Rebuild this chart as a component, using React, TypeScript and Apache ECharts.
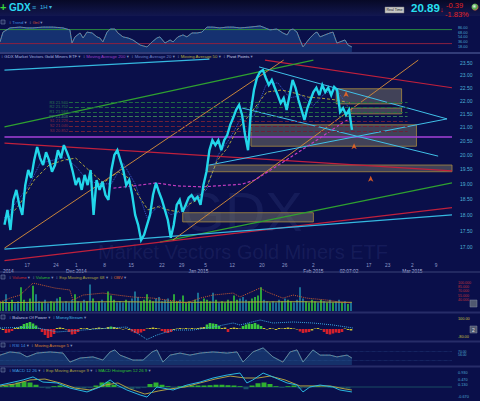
import React, { useEffect, useRef } from 'react';
import * as echarts from 'echarts';

const X_MAX = 150.67;
const ln = Math.log;
const FONT = 'Liberation Sans, Arial, DejaVu Sans, sans-serif';

// ---- main price panel (half-day samples) ----
const priceClose = [17.68,18.15,17.52,18.47,18.80,18.31,17.99,18.96,19.47,19.20,
  19.81,20.27,19.88,19.64,20.09,19.81,19.41,19.64,20.16,19.88,
  20.34,20.09,19.81,19.41,18.96,19.20,18.80,19.30,18.96,19.47,
  17.99,19.13,18.80,19.07,18.63,18.47,19.47,19.99,20.16,19.81,
  19.47,18.96,19.13,18.63,17.99,17.68,17.21,17.37,17.68,17.99,
  18.63,19.03,18.73,18.47,18.15,17.83,17.28,17.68,18.31,18.47,
  18.09,18.31,18.54,18.63,18.47,18.57,18.31,18.96,19.41,20.16,
  20.52,20.34,20.52,20.16,20.52,20.70,21.08,21.34,21.64,21.83,
  21.45,20.70,20.16,21.64,22.41,22.89,23.13,23.21,22.89,22.61,
  22.81,22.50,22.21,21.90,22.09,21.64,22.21,22.81,22.50,22.02,
  21.64,21.26,21.71,22.02,22.33,22.50,22.21,22.61,22.33,22.50,
  22.21,22.53,22.41,21.56,21.71,21.45,21.64,20.89];

const maYellow = [[0,17.77],[5,18.31],[10,19.13],[15,19.64],[20,19.81],[24,19.88],[28.3,19.47],[33.3,19.03],[38.3,19.41],[41.7,19.20],[45,18.63],[48.3,18.15],[51.7,18.25],[55,18.15],[58.3,18.09],[61.7,18.31],[65,18.47],[68.3,18.96],[71.7,19.81],[75,20.23],[78.3,20.89],[81.7,21.34],[85,21.83],[88.3,22.33],[93.3,22.41],[97.7,22.29],[102.3,22.13],[106.7,22.09],[111.7,22.02],[116.7,21.90]];
const maBlue = [[0,17.9],[4,18.4],[8,18.9],[12,19.7],[16,19.8],[20,19.9],[24,19.6],[28,19.1],[32,19.0],[36,19.0],[40,19.7],[44,19.0],[48,17.9],[52,18.3],[56,18.0],[60,18.1],[64,18.5],[68,18.8],[72,20.0],[76,20.6],[80,21.4],[84,21.4],[88,22.6],[92,22.7],[96,22.1],[100,22.2],[104,21.8],[108,22.3],[112,22.4],[116,21.7]];
const maMagenta = [[36.7,18.86],[43.3,18.93],[51,19.03],[58.3,18.93],[66.7,18.90],[80,18.99],[84.3,19.13],[93.3,19.71],[100,20.16],[106.7,20.63],[113.3,21.12],[116.7,21.34]];

const trendLines = [
  { pts: [[0, 20.63], [X_MAX, 20.63]], color: '#a640d8', width: 1.5 },
  { pts: [[0, 20.41], [X_MAX, 19.44]], color: '#c0203c', width: 1.2 },
  { pts: [[87.7, 23.62], [X_MAX, 22.50]], color: '#c0203c', width: 1.2 },
  { pts: [[0, 21.00], [104, 23.62]], color: '#2fa030', width: 1.2 },
  { pts: [[52.3, 17.15], [X_MAX, 19.03]], color: '#2fa030', width: 1.2 },
  { pts: [[0, 16.60], [X_MAX, 18.22]], color: '#c0203c', width: 1.2 },
  { pts: [[0, 16.94], [X_MAX, 17.99]], color: '#35b8e0', width: 1.2 },
  { pts: [[0, 23.21], [69, 23.66]], color: '#35b8e0', width: 1.2 },
  { pts: [[0, 16.97], [94, 23.62]], color: '#c8843a', width: 1 },
  { pts: [[56.7, 17.21], [139.3, 23.62]], color: '#c8843a', width: 1 },
  { pts: [[85.7, 23.34], [149, 21.30]], color: '#40c0e8', width: 1 },
  { pts: [[80, 21.71], [146, 19.95]], color: '#40c0e8', width: 1 },
  { pts: [[69, 19.64], [149, 21.30]], color: '#40c0e8', width: 1 },
];

const zoneBoxes = [
  [111.7, 22.46, 133.7, 21.87],
  [116.7, 21.71, 133.7, 21.49],
  [83, 21.08, 138.7, 20.30],
  [68.3, 19.64, X_MAX, 19.41],
  [60, 18.06, 104, 17.77],
];

const pivotNames = ['R3', 'R2', 'R1', 'PP', 'S1', 'S2', 'S3'];
const pivotValues = [21.940, 21.752, 21.564, 21.408, 21.226, 21.040, 20.852];
const pivotArrows = [[115, 22.37], [117.7, 20.41], [123.3, 19.27]];

const priceTicks = [17, 17.5, 18, 18.5, 19, 19.5, 20, 20.5, 21, 21.5, 22, 22.5, 23, 23.5];
const dayTicks = [7.67, 17.33, 24.2, 33.67, 42.67, 53, 59.67, 67.67, 76.67, 86.67, 94.33, 104, 122.67, 129, 137.33, 145.33];
const dayLabels = ['17', '24', '1', '8', '15', '22', '29', '5', '12', '20', '26', '2', '17', '23', '2', '9'];
const monthTicks = [1.3, 24.2, 65.3, 104, 116, 137.33];
const monthLabels = ['2014', 'Dec 2014', 'Jan 2015', 'Feb 2015', '02:07:02', 'Mar 2015'];

// ---- trend panel ----
const trendPts = [[0,36],[1,71],[3.3,86],[6.7,89],[9,86],[11,86],[14.3,89],[17.7,89],[21,86],[22.3,82],[23.3,79],[24,32],[25,54],[26.7,68],[27.7,50],[29,71],[30.7,68],[32.3,54],[33.3,50],[34.3,36],[35.7,71],[36.7,82],[38.3,82],[39.3,68],[41,54],[42.7,50],[44.3,43],[46.7,25],[49,18],[50.7,36],[52.3,50],[53.3,54],[55,32],[56.7,43],[57.7,36],[59.3,54],[61,61],[62.3,54],[64,68],[65.7,68],[67.3,71],[69,89],[71,89],[73.3,86],[75.7,89],[77.7,89],[80,86],[83.3,89],[86.7,93],[87.7,89],[90,79],[92.3,82],[94.3,68],[95.7,61],[96.7,79],[97.7,82],[99,71],[100,43],[101,18],[102.3,36],[103.3,50],[105,68],[105.7,71],[106.7,54],[108.3,61],[110,68],[111,71],[112.3,32],[113.3,36],[115,43],[116,25],[117.3,18]];
const trendTicks = [86, 68, 54, 36, 18];

// ---- volume panel ----
const volume = [30,35,60,30,40,28,35,85,40,30,
  45,90,60,35,30,40,28,35,30,45,
  50,30,35,30,40,60,35,30,40,35,
  95,45,30,35,40,30,70,55,40,30,
  35,30,40,35,45,70,50,35,40,60,
  40,35,45,50,35,40,45,35,60,35,
  40,55,30,35,30,40,65,35,45,40,
  35,65,40,30,35,30,40,35,55,40,
  45,50,40,35,45,50,55,85,40,35,
  30,35,30,40,35,45,40,35,30,40,
  85,45,35,30,40,35,30,40,35,30,
  40,30,35,40,30,35,25,30];
const volEma = [[0,30],[20,32],[40,33],[60,31],[80,32],[100,33],[117.3,31]];
const obv = [[0,32],[3.3,46],[6.7,57],[11,100],[18.3,82],[23.3,75],[24.3,39],[27.7,57],[34.3,64],[39,57],[44.3,50],[51,46],[55.7,39],[62.3,29],[66.7,46],[71,57],[77.7,64],[80,50],[86.7,82],[89,68],[94.3,46],[97.7,57],[102.3,46],[109,39],[113.3,32],[116.7,29]];
const obvTicks = [100, 85, 70, 55, 40];
const volumeTagLevel = 20;

// ---- balance of power / money stream ----
const bop = [0.05,-0.1,-0.4,-0.35,-0.2,0.1,0.15,0.3,0.5,0.6,
  0.7,0.55,0.35,0.05,-0.3,-0.6,-0.9,-0.8,-0.5,0.1,
  0.15,0.1,-0.05,-0.3,-0.55,-0.5,-0.3,0.1,0.05,0.1,
  -0.1,0.05,0.1,0.15,0.1,0.05,0.2,0.25,0.2,0.1,
  0.05,-0.05,0.05,-0.1,-0.25,-0.4,-0.45,-0.35,-0.2,0.05,
  0.1,0.15,0.1,0.05,-0.2,-0.35,-0.4,-0.3,-0.1,0.05,
  0.1,0.05,0.1,0.05,0.1,0.05,0.1,0.15,0.2,0.45,
  0.6,0.55,0.5,0.3,0.1,0.15,-0.3,0.1,0.15,0.1,
  0.05,0.3,0.45,0.55,0.5,0.6,0.45,0.3,0.1,-0.05,
  0.1,0.05,-0.1,0.1,0.05,0.1,0.15,0.1,0.05,-0.05,
  -0.25,-0.4,-0.35,-0.3,-0.15,0.05,0.1,-0.05,-0.3,-0.5,
  -0.55,-0.45,-0.35,-0.4,-0.3,0.05,-0.1,-0.15];
const moneyStream = [[0,0.1],[11,0.2],[19,-0.3],[27.7,-0.1],[36.7,0.1],[42.3,0.2],[46.7,-0.6],[49,-1.05],[52.3,-0.6],[57.7,-0.1],[64.3,-0.1],[71,0.2],[77.7,0.6],[80,0.4],[86.7,0.9],[91,0.6],[97.7,0.7],[104.3,0.6],[111,0.4],[117.7,0.1]];
const bopTicks = [1.0, -0.8];

// ---- RSI ----
const rsiPts = [[0,54],[3.3,68],[6.7,63],[9,46],[12.3,63],[16.7,68],[21,63],[23.3,23],[26.7,41],[31,46],[34.3,32],[36.7,68],[38.3,77],[40,54],[44.3,32],[47.7,32],[50.7,68],[52.3,77],[54.3,23],[56.7,54],[60,63],[63.3,54],[66.7,63],[71,68],[75.7,63],[79,68],[81,23],[84.3,68],[87.7,86],[91,46],[94.3,23],[96.7,68],[99,77],[101,23],[104.3,77],[106.7,54],[110,54],[112.3,46],[115.7,54],[117.3,41]];
const rsiTicks = [82, 70, 56, 46];

// ---- MACD ----
const macd = [[0,0.13],[3.3,0.27],[7.7,0.47],[11,0.67],[14.3,0.33],[19,0.27],[23.3,-0.07],[29,-0.33],[33.3,0],[36.7,0.47],[39,0.13],[42.3,-0.2],[46.7,-0.53],[49,-0.67],[52.3,0],[54.3,-0.07],[57.7,-0.2],[62.3,0.13],[66.7,0.33],[71,0.6],[75.7,0.8],[80,0.93],[82.3,0.27],[84.3,0.47],[87.7,0.93],[91,0.67],[95.7,0.27],[99,0.13],[101,-0.33],[103.3,0],[106.7,0.13],[111,0],[113.3,-0.2],[117.3,-0.33]];
const macdSignal = [[0,0.07],[5,0.2],[10,0.47],[15,0.53],[20,0.27],[25,-0.07],[30,-0.2],[35,0.13],[39.3,0.27],[43.3,-0.13],[48.3,-0.47],[52.7,-0.27],[56.7,-0.13],[61.7,0],[66.7,0.27],[71.7,0.53],[76.7,0.73],[81.7,0.6],[86,0.6],[90,0.73],[95,0.47],[100,0.07],[105,0.07],[110,0.07],[115,-0.13],[117.3,-0.2]];
const macdHist = [0.05,0.1,0.2,0.3,0.35,0.3,0.15,-0.05,-0.1,0.05,
  0.1,0.05,-0.05,-0.1,-0.1,-0.05,0.1,0.3,0.35,0.15,
  -0.05,-0.1,-0.15,-0.1,-0.05,0.2,0.3,0.15,0.05,-0.05,
  0.05,0.1,0.1,0.1,0.1,0.12,0.15,0.15,0.12,0.1,
  0.05,-0.15,0.1,0.25,0.3,0.2,0.05,-0.05,0.05,0.1,
  -0.1,-0.05,0.05,0.05,0.02,-0.05,-0.05,-0.08,-0.1];
const macdTicks = [0.93, 0.47, 0.13, -0.67];

// panel header captions: [text, colour]
const trendHeader = [['Trend', '#3a90e0'], ['Gnl', '#d85030']];
const mainHeader = [['GDX Market Vectors Gold Miners ETF', '#a8b8e0'], ['Moving Average 200', '#9a40c8'], ['Moving Average 20', '#6a80c8'], ['Moving Average 50', '#b8b040'], ['Pivot Points', '#d0d8f0']];
const volHeader = [['Volume', '#d02a2a'], ['Volume', '#30c030'], ['Exp Moving Average 68', '#a8a040'], ['OBV', '#e07030']];
const bopHeader = [['Balance Of Power', '#c0c8e8'], ['MoneyStream', '#40b8e0']];
const rsiHeader = [['RSI 14', '#4090e0'], ['Moving Average 5', '#d88030']];
const macdHeader = [['MACD 12 26', '#40a0e0'], ['Exp Moving Average 9', '#a8a040'], ['MACD Histogram 12 26 9', '#30c030']];

function buildOption() {
  const grids = [
    { top: 24, height: 28 },
    { top: 57, height: 205 },
    { top: 283, height: 28 },
    { top: 318, height: 22 },
    { top: 347, height: 18 },
    { top: 372, height: 27 },
  ].map((g) => ({ left: 0, width: 452, ...g }));

  const hiddenX = (i: number) => ({ type: 'value', gridIndex: i, min: 0, max: X_MAX, show: false });
  const findLabel = (ticks: number[], labels: string[]) => (v: number) => {
    const k = ticks.findIndex((t) => Math.abs(t - v) < 1e-6);
    return k >= 0 ? labels[k] : '';
  };
  const xAxis: any[] = [
    hiddenX(0),
    {
      type: 'value', gridIndex: 1, min: 0, max: X_MAX, position: 'bottom',
      axisLine: { show: false }, axisTick: { show: false }, splitLine: { show: false },
      axisLabel: { customValues: dayTicks, formatter: findLabel(dayTicks, dayLabels), fontSize: 4.8, color: '#8e9bc8', margin: 0.5, fontFamily: FONT },
    },
    hiddenX(2), hiddenX(3), hiddenX(4), hiddenX(5),
    {
      type: 'value', gridIndex: 1, min: 0, max: X_MAX, position: 'bottom', offset: 6,
      axisLine: { show: false }, axisTick: { show: false }, splitLine: { show: false },
      axisLabel: { customValues: monthTicks, formatter: findLabel(monthTicks, monthLabels), fontSize: 4.8, color: '#b4bde0', margin: 0.5, fontFamily: FONT },
    },
  ];

  const yAx = (gridIndex: number, min: number, max: number, ticks: number[] | null, fmt: (v: number) => string, color: string, fontSize = 4.5, margin = 6) => ({
    type: 'value', gridIndex, min, max, position: 'right',
    axisLine: { show: false }, axisTick: { show: false }, splitLine: { show: false },
    axisLabel: ticks ? { customValues: ticks, formatter: fmt, color, fontSize, margin, fontFamily: FONT } : { show: false },
  });
  const yAxis = [
    yAx(0, 0, 100, trendTicks, (v) => v.toFixed(2), '#4aa8d0', 3.8),
    yAx(1, ln(16.56), ln(23.75), priceTicks.map(ln), (v) => Math.exp(v).toFixed(2), '#4cb0d6', 5, 8),
    yAx(2, 0, 100, null, () => '', ''),
    yAx(2, 0, 100, obvTicks, (v) => v.toFixed(3), '#c0303a', 3.6),
    yAx(3, -1.1, 1.1, bopTicks, (v) => (v * 100).toFixed(2), '#c8c040', 3.8),
    yAx(4, 10, 90, rsiTicks, (v) => v.toFixed(2), '#4aa8d0', 3.4),
    yAx(5, -0.8, 1, macdTicks, (v) => v.toFixed(3), '#4aa8d0', 3.8),
  ];

  const tag = (value: number, text: string, bg: string, fg: string, fontSize = 4.5) => ({
    silent: true, symbol: ['none', 'none'], lineStyle: { opacity: 0 },
    label: { position: 'end', formatter: text, backgroundColor: bg, color: fg, fontSize, padding: [0.3, 2], distance: 4, fontFamily: FONT },
    data: [{ yAxis: value }],
  });

  const line = (xi: number, yi: number, data: any[], color: string, width = 1, type: any = 'solid', z = 3, extra: any = {}) => ({
    type: 'line', xAxisIndex: xi, yAxisIndex: yi, data, symbol: 'none', silent: true, z,
    lineStyle: { color, width, type }, ...extra,
  });

  const lastPrice = priceClose[priceClose.length - 1];
  const series: any[] = [];

  // trend
  series.push(line(0, 0, [[0, 80], [X_MAX, 80]], '#2c8a40', 1));
  series.push(line(0, 0, [[0, 30], [X_MAX, 30]], '#8a2040', 1));
  series.push(line(0, 0, trendPts, '#2aa8e0', 1, 'solid', 3, { areaStyle: { color: 'rgba(40,105,175,0.55)', origin: 'start' } }));
  series.push(line(0, 0, trendPts, '#c84838', 0.8, 'dotted', 4));

  // main: zones
  series.push({
    type: 'line', xAxisIndex: 1, yAxisIndex: 1, data: [[0, ln(20)]], symbol: 'none', silent: true, z: 1,
    lineStyle: { opacity: 0 },
    markArea: {
      silent: true,
      itemStyle: { color: 'rgba(120,118,102,0.5)', borderColor: '#a88a40', borderWidth: 0.8 },
      data: zoneBoxes.map((b) => [{ coord: [b[0], ln(b[1])] }, { coord: [b[2], ln(b[3])] }]),
    },
  });
  // pivot levels
  series.push({
    type: 'line', xAxisIndex: 1, yAxisIndex: 1, data: [[0, ln(20)]], symbol: 'none', silent: true, z: 2,
    lineStyle: { opacity: 0 },
    markLine: {
      silent: true, symbol: ['none', 'none'],
      data: pivotValues.map((p, k) => {
        const c = k < 3 ? '#1f6a44' : k === 3 ? '#3a7a58' : '#6e2038';
        const lc = k < 3 ? '#2a7a50' : k === 3 ? '#4a8a68' : '#882a42';
        return [
          { coord: [21.7, ln(p)], lineStyle: { color: c, type: 'dashed', width: 1 }, label: { show: true, position: 'start', formatter: `${pivotNames[k]} ${p.toFixed(3)}`, color: lc, fontSize: 4, distance: 1, fontFamily: FONT } },
          { coord: [135.7, ln(p)] },
        ];
      }),
    },
  });
  trendLines.forEach((t) => series.push(line(1, 1, t.pts.map(([x, p]) => [x, ln(p)]), t.color, t.width, 'solid', 3)));
  series.push(line(1, 1, maBlue.map(([x, p]) => [x, ln(p)]), '#3a58c8', 1, 'dotted', 3));
  series.push(line(1, 1, maYellow.map(([x, p]) => [x, ln(p)]), '#aaa23e', 1, [3, 2], 3));
  series.push(line(1, 1, maMagenta.map(([x, p]) => [x, ln(p)]), '#c23cc0', 1.2, [3, 2], 3));
  series.push(line(1, 1, priceClose.map((p, i) => [i, ln(p)]), '#22d6ea', 2.4, 'solid', 6, {
    lineStyle: { color: '#22d6ea', width: 2.4, join: 'miter', miterLimit: 3 },
    markLine: tag(ln(lastPrice), lastPrice.toFixed(2), '#8fe0f8', '#06104a', 4.3),
  }));
  series.push({
    type: 'scatter', xAxisIndex: 1, yAxisIndex: 1, silent: true, z: 7,
    symbol: 'arrow', symbolSize: [4, 6], itemStyle: { color: '#ff6a20' },
    data: pivotArrows.map(([x, p]) => [x, ln(p)]),
  });

  // volume
  series.push({
    type: 'bar', xAxisIndex: 2, yAxisIndex: 2, barWidth: 1.6, silent: true, z: 2,
    data: volume.map((v, i) => ({
      value: [i, v],
      itemStyle: { color: i > 0 && priceClose[i] < priceClose[i - 1] ? '#1f86a8' : '#33c83a' },
    })),
    markLine: tag(volumeTagLevel, '30.92M', '#d8d8e2', '#10123a', 4),
  });
  series.push(line(2, 2, volEma, '#b0a838', 1, 'solid', 3));
  series.push(line(2, 3, obv, '#c85a30', 1, 'dotted', 4));

  // balance of power
  series.push({
    type: 'bar', xAxisIndex: 3, yAxisIndex: 4, barWidth: 2.6, silent: true, z: 2,
    data: bop.map((v, i) => ({
      value: [i, v],
      itemStyle: { color: v >= 0.25 ? '#3ac83c' : v <= -0.2 ? '#d4202c' : '#c8c030' },
    })),
    markLine: tag(0, '0.00', '#d8d8e2', '#10123a'),
  });
  series.push(line(3, 4, moneyStream, '#3aa8e0', 1, 'dotted', 4));

  // RSI
  series.push(line(4, 5, [[0, 70], [X_MAX, 70]], '#2a4a88', 0.6, 'dotted', 1));
  series.push(line(4, 5, [[0, 30], [X_MAX, 30]], '#2a4a88', 0.6, 'dotted', 1));
  series.push(line(4, 5, rsiPts, '#2aa0d0', 1, 'solid', 3, {
    areaStyle: { color: 'rgba(40,105,160,0.55)', origin: 'start' },
    markLine: tag(28, '41.27', '#d8d8e2', '#10123a'),
  }));
  series.push(line(4, 5, rsiPts, '#d04a30', 0.7, 'dotted', 4));

  // MACD
  series.push(line(5, 6, [[0, 0], [X_MAX, 0]], '#1c5a6a', 0.8, 'solid', 1));
  series.push({
    type: 'bar', xAxisIndex: 5, yAxisIndex: 6, barWidth: 5, silent: true, z: 2,
    data: macdHist.map((v, j) => ({ value: [j * 2, v], itemStyle: { color: v >= 0 ? '#2fb030' : '#1a5068' } })),
  });
  series.push(line(5, 6, macdSignal, '#b0a040', 1, 'solid', 3));
  series.push(line(5, 6, macd, '#2ab8e0', 1, 'solid', 4, {
    markLine: tag(macd[macd.length - 1][1], '-0.330', '#d8d8e2', '#10123a'),
  }));

  // ---- graphics (chrome, headers, watermark) ----
  const T = (x: number, y: number, text: string, fill: string, fontSize = 4.3, extra: any = {}) => ({
    type: 'text', x, y, silent: true, z: 10,
    style: { text, fill, fontSize, fontFamily: FONT, verticalAlign: 'middle', align: 'left', ...extra },
  });
  const box = (y: number) => ({ type: 'rect', silent: true, z: 10, shape: { x: 1, y: y - 2, width: 4, height: 4 }, style: { fill: '#1c2458', stroke: '#7080a8', lineWidth: 0.6 } });
  const sep = (y: number, color: string, w = 1) => ({ type: 'line', silent: true, z: 9, shape: { x1: 0, y1: y, x2: 480, y2: y }, style: { stroke: color, lineWidth: w } });
  const rich: any = { d: { fill: '#8090c0', fontSize: 4.3, fontFamily: FONT } };
  const colors: string[] = [];
  const header = (x: number, y: number, items: string[][], withBox = true) => {
    const parts = items.map(([text, color]) => {
      let k = colors.indexOf(color);
      if (k < 0) { colors.push(color); k = colors.length - 1; rich['c' + k] = { fill: color, fontSize: 4.3, fontFamily: FONT }; }
      return `{d|\u2195} {c${k}|${text}} {d|\u25BE}`;
    });
    const els: any[] = [{ type: 'text', x, y, silent: true, z: 10, style: { text: parts.join('  '), rich, fontSize: 4.3, fontFamily: FONT, verticalAlign: 'middle', align: 'left' } }];
    if (withBox) els.push(box(y));
    return els;
  };

  const graphic: any[] = [
    { type: 'rect', silent: true, z: 0, shape: { x: 0, y: 0, width: 480, height: 16 },
      style: { fill: new echarts.graphic.LinearGradient(0, 0, 0, 1, [{ offset: 0, color: '#070926' }, { offset: 1, color: '#121750' }]) } },
    // watermark
    { type: 'text', silent: true, z: 0, x: 242, y: 211, style: { text: 'GDX', fill: 'rgba(130,150,230,0.10)', fontSize: 56, fontFamily: FONT, align: 'center', verticalAlign: 'middle' } },
    { type: 'text', silent: true, z: 0, x: 243, y: 252, style: { text: 'Market Vectors Gold Miners ETF', fill: 'rgba(130,150,230,0.10)', fontSize: 20, fontFamily: FONT, align: 'center', verticalAlign: 'middle' } },
    // top bar
    T(0, 7, '+', '#38d838', 11, { fontWeight: 'bold' }),
    T(9, 7, 'GDX', '#29d8f0', 10, { fontWeight: 'bold' }),
    T(32, 7, '\u2261', '#3ab8e0', 7),
    T(40, 7, '1H', '#3ab8e0', 6),
    T(49, 7, '\u25BE', '#3ab8e0', 6),
    { type: 'rect', silent: true, z: 10, shape: { x: 385, y: 7, width: 19, height: 6 }, style: { fill: '#c8c8c8', stroke: '#777', lineWidth: 0.5 } },
    T(394.5, 10, 'Real Time', '#222', 3.6, { align: 'center' }),
    T(411, 8, '20.89', '#27e0f0', 11.5, { fontWeight: 'bold' }),
    T(440, 9, '\u2193', '#e02020', 7, { fontWeight: 'bold' }),
    T(446, 5, '-0.39', '#e52222', 7.5),
    T(445, 14.5, '-1.83%', '#e52222', 7.5),
    { type: 'circle', silent: true, z: 10, shape: { cx: 475, cy: 7, r: 3.5 },
      style: { fill: new echarts.graphic.RadialGradient(0.4, 0.4, 0.7, [{ offset: 0, color: '#f0f0f0' }, { offset: 0.5, color: '#50b050' }, { offset: 1, color: '#d04040' }]) } },
    // separators
    sep(53, '#5a6aa6', 1),
    sep(272, '#3a4478', 1),
    sep(312.5, '#262c68', 2),
    sep(341.5, '#262c68', 2),
    sep(366.5, '#262c68', 2),
    // panel headers
    ...header(9, 22, trendHeader),
    ...header(1, 56, mainHeader, false),
    ...header(9, 277, volHeader),
    ...header(9, 317, bopHeader),
    ...header(9, 345, rsiHeader),
    ...header(9, 370, macdHeader),
    // right side buttons
    { type: 'rect', silent: true, z: 10, shape: { x: 470, y: 300, width: 7, height: 7 }, style: { fill: '#505870', stroke: '#8088a0', lineWidth: 0.5 } },
    { type: 'rect', silent: true, z: 10, shape: { x: 470, y: 326, width: 7, height: 7 }, style: { fill: '#505870', stroke: '#8088a0', lineWidth: 0.5 } },
    T(472, 329.5, '2', '#e0e0e0', 5),
  ];

  return {
    animation: false,
    backgroundColor: '#0a0f4a',
    textStyle: { fontFamily: FONT },
    grid: grids,
    xAxis,
    yAxis,
    series,
    graphic,
  };
}

export default function App() {
  const ref = useRef<HTMLDivElement>(null);
  useEffect(() => {
    if (!ref.current) return;
    const chart = echarts.init(ref.current, null, { renderer: 'svg' });
    chart.setOption(buildOption() as any);
    return () => chart.dispose();
  }, []);
  return <div ref={ref} style={{ position: 'absolute', left: 0, top: 0, width: 480, height: 401 }} />;
}
